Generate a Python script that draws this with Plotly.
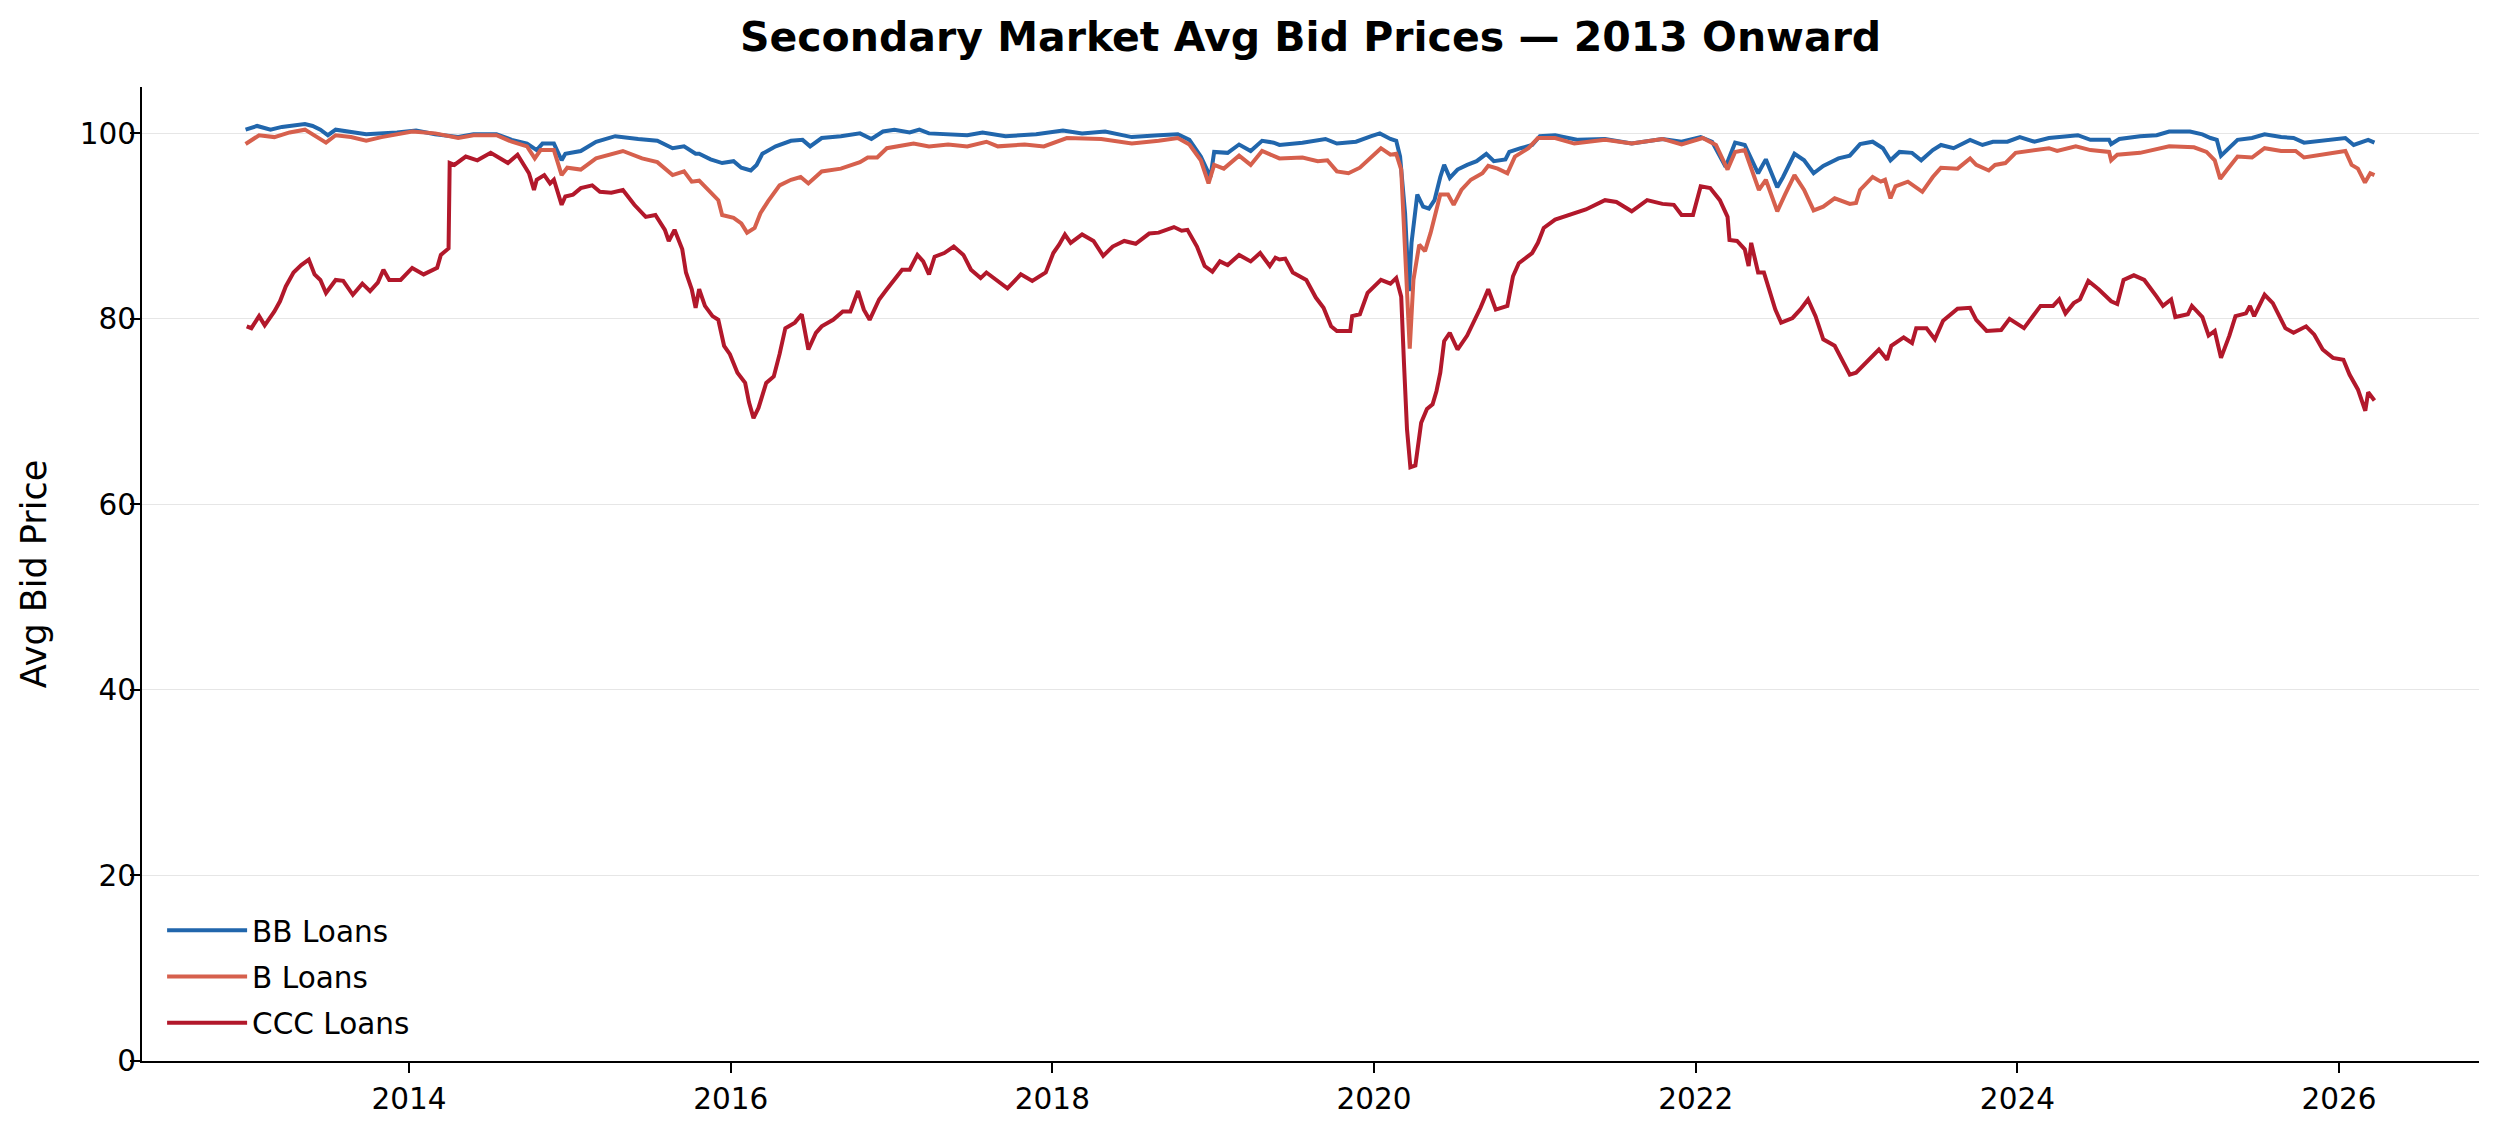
import plotly.graph_objects as go

# ---- data (decimal years, avg bid price) ----
bb_t = [2012.984, 2013.056, 2013.139, 2013.210, 2013.353, 2013.401, 2013.449, 2013.496, 2013.544, 2013.639,
        2013.734, 2013.925, 2014.044, 2014.163, 2014.306, 2014.401, 2014.544, 2014.639, 2014.734, 2014.794,
        2014.830, 2014.901, 2014.949, 2014.972, 2015.068, 2015.163, 2015.282, 2015.425, 2015.544, 2015.639,
        2015.710, 2015.782, 2015.804, 2015.875, 2015.947, 2016.018, 2016.066, 2016.125, 2016.161, 2016.197,
        2016.280, 2016.375, 2016.447, 2016.494, 2016.566, 2016.685, 2016.804, 2016.875, 2016.947, 2017.018,
        2017.113, 2017.173, 2017.233, 2017.471, 2017.566, 2017.709, 2017.899, 2018.066, 2018.185, 2018.328,
        2018.494, 2018.661, 2018.780, 2018.852, 2018.923, 2018.983, 2019.006, 2019.090, 2019.161, 2019.233,
        2019.304, 2019.376, 2019.412, 2019.555, 2019.698, 2019.769, 2019.888, 2019.983, 2020.036, 2020.102,
        2020.138, 2020.162, 2020.193, 2020.217, 2020.233, 2020.269, 2020.305, 2020.341, 2020.376, 2020.412,
        2020.436, 2020.471, 2020.519, 2020.579, 2020.638, 2020.698, 2020.745, 2020.817, 2020.841, 2020.912,
        2020.983, 2021.031, 2021.126, 2021.269, 2021.436, 2021.602, 2021.793, 2021.912, 2022.031, 2022.102,
        2022.186, 2022.245, 2022.305, 2022.352, 2022.388, 2022.436, 2022.471, 2022.507, 2022.543, 2022.614,
        2022.674, 2022.733, 2022.793, 2022.888, 2022.958, 2023.022, 2023.100, 2023.164, 2023.211, 2023.267,
        2023.345, 2023.402, 2023.474, 2023.525, 2023.603, 2023.706, 2023.783, 2023.848, 2023.938, 2024.015,
        2024.106, 2024.196, 2024.376, 2024.454, 2024.570, 2024.583, 2024.634, 2024.763, 2024.866, 2024.944,
        2025.073, 2025.150, 2025.201, 2025.240, 2025.266, 2025.305, 2025.369, 2025.459, 2025.537, 2025.640,
        2025.717, 2025.782, 2025.923, 2026.039, 2026.091, 2026.143, 2026.181, 2026.220]
bb_v = [100.4, 100.8, 100.4, 100.7, 101.0, 100.8, 100.4, 99.8, 100.4, 100.1,
        99.9, 100.1, 100.3, 99.9, 99.6, 99.9, 99.9, 99.3, 98.9, 98.2,
        98.9, 98.9, 97.1, 97.8, 98.1, 99.1, 99.7, 99.4, 99.2, 98.4,
        98.6, 97.8, 97.8, 97.2, 96.8, 97.0, 96.3, 96.0, 96.6, 97.8,
        98.6, 99.2, 99.3, 98.6, 99.5, 99.7, 100.0, 99.4, 100.2, 100.4,
        100.1, 100.4, 100.0, 99.8, 100.1, 99.7, 99.9, 100.3, 100.0, 100.2,
        99.6, 99.8, 99.9, 99.3, 97.5, 95.3, 98.0, 97.9, 98.8, 98.1,
        99.2, 99.0, 98.75, 99.0, 99.4, 98.9, 99.1, 99.7, 100.0, 99.4,
        99.2, 97.5, 91.4, 83.0, 88.2, 93.4, 92.1, 91.9, 92.8, 95.3,
        96.6, 95.2, 96.1, 96.6, 97.0, 97.8, 97.0, 97.2, 98.0, 98.4,
        98.75, 99.7, 99.8, 99.3, 99.4, 98.9, 99.4, 99.1, 99.6, 99.1,
        96.4, 99.0, 98.75, 97.0, 95.7, 97.2, 95.7, 94.2, 95.3, 97.8,
        97.1, 95.7, 96.5, 97.3, 97.6, 98.85, 99.1, 98.4, 97.1, 98.0,
        97.9, 97.1, 98.2, 98.75, 98.4, 99.3, 98.75, 99.1, 99.1, 99.6,
        99.1, 99.5, 99.8, 99.3, 99.3, 98.85, 99.4, 99.7, 99.8, 100.2,
        100.2, 99.9, 99.5, 99.3, 97.6, 98.2, 99.3, 99.5, 99.9, 99.6,
        99.5, 99.0, 99.3, 99.5, 98.75, 99.1, 99.3, 99.0]

b_t = [2012.984, 2013.068, 2013.163, 2013.258, 2013.353, 2013.425, 2013.484, 2013.544, 2013.639, 2013.734,
       2013.829, 2014.020, 2014.163, 2014.306, 2014.401, 2014.544, 2014.639, 2014.734, 2014.782, 2014.818,
       2014.901, 2014.949, 2014.984, 2015.068, 2015.163, 2015.330, 2015.449, 2015.544, 2015.639, 2015.710,
       2015.758, 2015.804, 2015.875, 2015.923, 2015.947, 2016.018, 2016.066, 2016.102, 2016.149, 2016.185,
       2016.233, 2016.304, 2016.375, 2016.435, 2016.483, 2016.566, 2016.685, 2016.804, 2016.852, 2016.911,
       2016.971, 2017.137, 2017.233, 2017.352, 2017.471, 2017.590, 2017.661, 2017.828, 2017.947, 2018.090,
       2018.304, 2018.494, 2018.661, 2018.780, 2018.852, 2018.923, 2018.971, 2019.006, 2019.066, 2019.161,
       2019.233, 2019.304, 2019.412, 2019.555, 2019.650, 2019.710, 2019.769, 2019.841, 2019.912, 2019.983,
       2020.043, 2020.102, 2020.138, 2020.169, 2020.193, 2020.222, 2020.245, 2020.281, 2020.317, 2020.352,
       2020.412, 2020.460, 2020.495, 2020.543, 2020.602, 2020.674, 2020.710, 2020.769, 2020.829, 2020.876,
       2020.960, 2021.019, 2021.126, 2021.245, 2021.436, 2021.602, 2021.793, 2021.912, 2022.043, 2022.126,
       2022.198, 2022.245, 2022.305, 2022.352, 2022.393, 2022.436, 2022.471, 2022.507, 2022.555, 2022.614,
       2022.674, 2022.733, 2022.793, 2022.864, 2022.958, 2022.997, 2023.022, 2023.061, 2023.100, 2023.151,
       2023.177, 2023.211, 2023.242, 2023.319, 2023.409, 2023.474, 2023.525, 2023.628, 2023.706, 2023.744,
       2023.822, 2023.861, 2023.925, 2023.989, 2024.118, 2024.196, 2024.247, 2024.363, 2024.454, 2024.570,
       2024.583, 2024.621, 2024.763, 2024.944, 2025.098, 2025.176, 2025.227, 2025.261, 2025.305, 2025.369,
       2025.459, 2025.537, 2025.640, 2025.730, 2025.782, 2025.923, 2026.039, 2026.078, 2026.117, 2026.161,
       2026.194, 2026.220]
b_v = [98.85, 99.8, 99.6, 100.1, 100.4, 99.6, 99.0, 99.8, 99.6, 99.2,
       99.6, 100.2, 100.0, 99.5, 99.8, 99.8, 99.1, 98.6, 97.3, 98.2,
       98.2, 95.5, 96.3, 96.1, 97.3, 98.1, 97.3, 96.9, 95.5, 95.9,
       94.8, 94.9, 93.7, 92.8, 91.2, 90.9, 90.3, 89.3, 89.8, 91.4,
       92.7, 94.4, 95.0, 95.3, 94.6, 95.9, 96.2, 96.9, 97.4, 97.4,
       98.4, 98.9, 98.6, 98.8, 98.6, 99.1, 98.6, 98.8, 98.6, 99.5,
       99.4, 98.9, 99.2, 99.5, 98.8, 97.1, 94.6, 96.6, 96.2, 97.6,
       96.6, 98.1, 97.3, 97.4, 97.0, 97.1, 95.9, 95.7, 96.3, 97.5,
       98.4, 97.7, 97.8, 96.1, 87.8, 76.8, 84.2, 88.0, 87.3, 89.3,
       93.4, 93.4, 92.3, 93.9, 95.0, 95.7, 96.5, 96.2, 95.7, 97.5,
       98.4, 99.5, 99.5, 98.9, 99.3, 98.9, 99.4, 98.8, 99.5, 98.75,
       96.1, 98.0, 98.2, 95.8, 93.9, 95.0, 93.4, 91.6, 93.4, 95.5,
       93.9, 91.7, 92.1, 93.0, 92.4, 92.5, 93.9, 94.6, 95.3, 94.8,
       95.0, 93.0, 94.3, 94.8, 93.7, 95.3, 96.3, 96.2, 97.3, 96.6,
       96.0, 96.6, 96.8, 97.9, 98.2, 98.4, 98.1, 98.6, 98.2, 98.0,
       97.1, 97.7, 97.9, 98.6, 98.5, 98.0, 97.1, 95.1, 96.1, 97.5,
       97.4, 98.4, 98.1, 98.1, 97.4, 97.8, 98.1, 96.6, 96.2, 94.7,
       95.7, 95.5]

ccc_t = [2012.991, 2013.020, 2013.068, 2013.103, 2013.163, 2013.198, 2013.234, 2013.282, 2013.330, 2013.377,
         2013.413, 2013.449, 2013.484, 2013.544, 2013.591, 2013.651, 2013.710, 2013.758, 2013.806, 2013.841,
         2013.877, 2013.948, 2014.020, 2014.091, 2014.175, 2014.198, 2014.246, 2014.253, 2014.282, 2014.353,
         2014.425, 2014.508, 2014.568, 2014.615, 2014.675, 2014.710, 2014.746, 2014.777, 2014.794, 2014.841,
         2014.877, 2014.901, 2014.949, 2014.972, 2015.020, 2015.068, 2015.139, 2015.187, 2015.258, 2015.330,
         2015.401, 2015.472, 2015.532, 2015.591, 2015.615, 2015.651, 2015.699, 2015.722, 2015.758, 2015.782,
         2015.804, 2015.840, 2015.887, 2015.923, 2015.959, 2015.995, 2016.042, 2016.090, 2016.114, 2016.142,
         2016.173, 2016.221, 2016.268, 2016.304, 2016.340, 2016.399, 2016.442, 2016.483, 2016.530, 2016.566,
         2016.637, 2016.697, 2016.744, 2016.792, 2016.828, 2016.864, 2016.923, 2016.971, 2017.018, 2017.066,
         2017.113, 2017.161, 2017.197, 2017.233, 2017.268, 2017.328, 2017.387, 2017.447, 2017.494, 2017.554,
         2017.590, 2017.649, 2017.721, 2017.804, 2017.875, 2017.959, 2018.006, 2018.042, 2018.078, 2018.114,
         2018.185, 2018.256, 2018.316, 2018.375, 2018.447, 2018.518, 2018.602, 2018.661, 2018.756, 2018.804,
         2018.840, 2018.899, 2018.947, 2018.995, 2019.042, 2019.090, 2019.161, 2019.233, 2019.292, 2019.352,
         2019.387, 2019.412, 2019.448, 2019.495, 2019.579, 2019.638, 2019.686, 2019.733, 2019.769, 2019.852,
         2019.864, 2019.912, 2019.960, 2020.043, 2020.102, 2020.138, 2020.169, 2020.186, 2020.205, 2020.226,
         2020.257, 2020.293, 2020.329, 2020.364, 2020.388, 2020.412, 2020.436, 2020.471, 2020.519, 2020.579,
         2020.626, 2020.662, 2020.710, 2020.757, 2020.829, 2020.864, 2020.900, 2020.983, 2021.019, 2021.055,
         2021.126, 2021.245, 2021.317, 2021.436, 2021.507, 2021.602, 2021.698, 2021.793, 2021.864, 2021.912,
         2021.983, 2022.031, 2022.090, 2022.150, 2022.198, 2022.210, 2022.257, 2022.305, 2022.329, 2022.345,
         2022.388, 2022.424, 2022.460, 2022.495, 2022.531, 2022.602, 2022.650, 2022.698, 2022.745, 2022.793,
         2022.864, 2022.912, 2022.958, 2022.997, 2023.061, 2023.139, 2023.190, 2023.216, 2023.293, 2023.345,
         2023.371, 2023.435, 2023.487, 2023.538, 2023.628, 2023.706, 2023.744, 2023.809, 2023.899, 2023.951,
         2024.041, 2024.106, 2024.144, 2024.222, 2024.260, 2024.299, 2024.350, 2024.389, 2024.441, 2024.505,
         2024.583, 2024.621, 2024.660, 2024.724, 2024.789, 2024.866, 2024.905, 2024.956, 2024.982, 2025.060,
         2025.085, 2025.150, 2025.189, 2025.227, 2025.266, 2025.318, 2025.356, 2025.421, 2025.446, 2025.472,
         2025.537, 2025.588, 2025.666, 2025.717, 2025.795, 2025.846, 2025.898, 2025.962, 2026.027, 2026.065,
         2026.117, 2026.163, 2026.181, 2026.220]
ccc_v = [79.2, 79.0, 80.3, 79.3, 80.8, 81.9, 83.5, 85.0, 85.8, 86.4,
         84.8, 84.2, 82.8, 84.2, 84.1, 82.6, 83.8, 83.0, 83.9, 85.3,
         84.2, 84.2, 85.5, 84.8, 85.5, 86.9, 87.6, 96.8, 96.6, 97.5,
         97.1, 97.9, 97.3, 96.8, 97.7, 96.8, 95.7, 93.9, 95.0, 95.5,
         94.6, 95.0, 92.3, 93.2, 93.4, 94.1, 94.4, 93.7, 93.6, 93.9,
         92.3, 91.0, 91.2, 89.6, 88.4, 89.6, 87.5, 85.0, 83.2, 81.2,
         83.2, 81.4, 80.3, 79.9, 77.1, 76.2, 74.2, 73.1, 71.0, 69.3,
         70.4, 73.1, 73.8, 76.2, 79.0, 79.6, 80.5, 76.7, 78.5, 79.2,
         79.9, 80.8, 80.8, 83.0, 81.0, 79.9, 82.1, 83.2, 84.2, 85.3,
         85.3, 86.9, 86.2, 84.8, 86.7, 87.1, 87.8, 86.9, 85.3, 84.4,
         85.0, 84.2, 83.3, 84.8, 84.1, 85.0, 87.1, 88.0, 89.1, 88.2,
         89.1, 88.4, 86.8, 87.8, 88.4, 88.1, 89.2, 89.3, 89.9, 89.5,
         89.6, 87.8, 85.7, 85.1, 86.2, 85.8, 86.9, 86.2, 87.1, 85.7,
         86.6, 86.4, 86.5, 85.0, 84.2, 82.3, 81.2, 79.2, 78.7, 78.7,
         80.3, 80.5, 82.8, 84.2, 83.8, 84.4, 82.4, 75.3, 68.1, 64.0,
         64.2, 68.8, 70.3, 70.8, 72.2, 74.2, 77.6, 78.5, 76.7, 78.2,
         79.8, 81.2, 83.2, 81.0, 81.4, 84.6, 86.0, 87.1, 88.2, 89.8,
         90.7, 91.4, 91.8, 92.8, 92.6, 91.6, 92.8, 92.4, 92.3, 91.2,
         91.2, 94.3, 94.1, 92.8, 91.0, 88.5, 88.4, 87.5, 85.7, 88.2,
         85.0, 85.0, 82.8, 81.0, 79.6, 80.1, 81.0, 82.1, 80.3, 77.8,
         77.1, 75.6, 74.0, 74.2, 75.3, 76.7, 75.6, 77.1, 78.0, 77.4,
         79.0, 79.0, 77.8, 79.8, 81.1, 81.2, 79.9, 78.7, 78.8, 80.0,
         79.0, 80.6, 81.4, 81.4, 82.1, 80.6, 81.7, 82.1, 84.1, 83.2,
         81.9, 81.6, 84.2, 84.7, 84.2, 82.4, 81.4, 82.1, 80.2, 80.5,
         81.4, 80.2, 78.2, 78.7, 75.8, 78.2, 80.3, 80.6, 81.4, 80.3,
         82.6, 81.7, 79.0, 78.5, 79.2, 78.3, 76.7, 75.8, 75.6, 74.0,
         72.4, 70.1, 72.1, 71.2]

series_names = ["BB Loans", "B Loans", "CCC Loans"]
series_colors = ["#2166ac", "#d6604d", "#b2182b"]
x_tick_vals = [2014, 2016, 2018, 2020, 2022, 2024, 2026]
x_tick_text = ["2014", "2016", "2018", "2020", "2022", "2024", "2026"]
y_tick_vals = [0, 20, 40, 60, 80, 100]

FONT = "DejaVu Sans"
# page body has an 8px margin: figure is sized so the plot lands where the reference has it
FIG_W, FIG_H = 2484, 1120

fig = go.Figure()
for i, (t, v) in enumerate([(bb_t, bb_v), (b_t, b_v), (ccc_t, ccc_v)]):
    fig.add_trace(go.Scatter(x=t, y=v, mode="lines", name=series_names[i],
                             legendgroup=series_names[i],
                             line=dict(color=series_colors[i], width=4)))

axis_common = dict(showline=True, linecolor="black", linewidth=2.2, ticks="outside",
                   ticklen=10, tickwidth=2.2, tickcolor="black", zeroline=False,
                   tickfont=dict(family=FONT, size=29.5, color="black"))

fig.update_layout(
    width=FIG_W, height=FIG_H,
    margin=dict(l=134, r=13, t=79, b=64),
    paper_bgcolor="white", plot_bgcolor="white",
    title=dict(text="Secondary Market Avg Bid Prices — 2013 Onward",
               font=dict(family=FONT, size=41, color="black", weight="bold"),
               x=0.5244, xanchor="center", y=0.9741, yanchor="middle"),
    xaxis=dict(range=[2012.34, 2026.87], tickvals=x_tick_vals, ticktext=x_tick_text,
               showgrid=False, **axis_common),
    yaxis=dict(range=[0, 105], tickvals=y_tick_vals, showgrid=True, gridcolor="#e6e6e6",
               gridwidth=1.4, ticklabelstandoff=-12,
               title=dict(text="Avg Bid Price", font=dict(family=FONT, size=35, color="black"),
                          standoff=22),
               **axis_common),
    legend=dict(x=0.0086, y=0.1607, xanchor="left", yanchor="top", bgcolor="rgba(0,0,0,0)",
                itemwidth=80,
                font=dict(family=FONT, size=29.5, color="black"), tracegroupgap=5),
    showlegend=True,
)

fig.write_html("out.html")
